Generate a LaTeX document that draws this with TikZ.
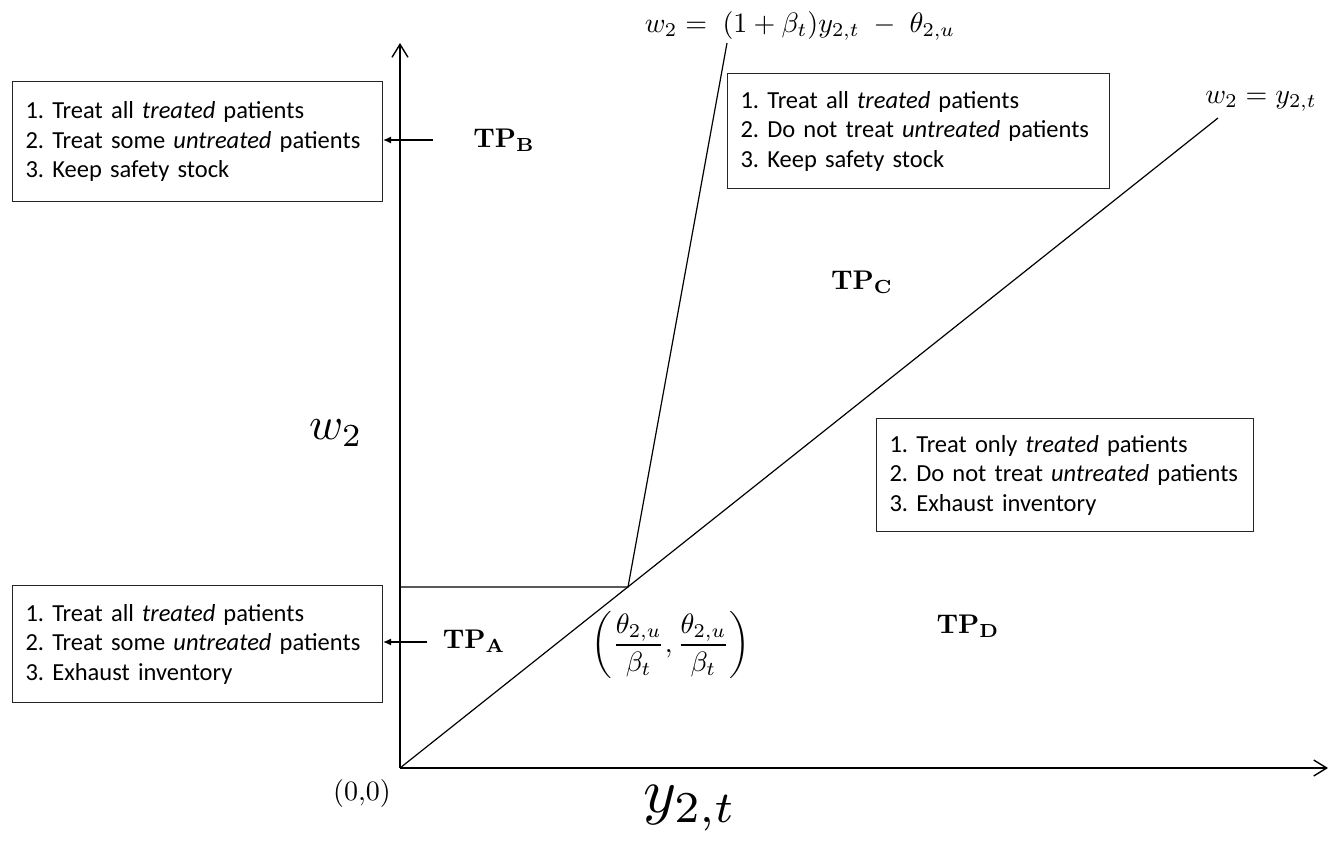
\documentclass[tikz,border=0pt]{standalone}
\usepackage[no-math]{fontspec}
\setmainfont{Carlito}
\usetikzlibrary{arrows.meta}
\frenchspacing
\hyphenpenalty=10000
\begin{document}
\begin{tikzpicture}[x=1pt,y=-1pt,
  axisline/.style={line width=1.6pt, -{Straight Barb[length=13pt,width=16pt,line width=1.4pt]}},
  thinline/.style={line width=1.2pt},
  infobox/.style={draw=black!85, line width=1.1pt, anchor=north west, inner xsep=13pt, inner ysep=0pt,
     align=left, font=\fontsize{24.5}{29.5}\selectfont},
  boxarrow/.style={line width=1.2pt, -{Latex[length=8pt,width=7pt]}},
  tplabel/.style={scale=2.7, inner sep=0pt},
  wmath/.style={scale=4.6, inner sep=0pt},
  ymath/.style={scale=6.3, inner sep=0pt},
  eqlabel/.style={scale=2.8, inner sep=0pt}
]
\useasboundingbox (0,0) rectangle (1337,840);

% axes
\coordinate (O) at (400,768);
\coordinate (ytop) at (400,43);
\coordinate (xend) at (1328,768);
\draw[axisline] (O) -- (ytop);
\draw[axisline] (O) -- (xend);

% boundary lines
\coordinate (dend) at (1218,118);
\coordinate (K) at (628,587);
\coordinate (Stop) at (727,43);
\coordinate (H) at (400,587);
\draw[thinline] (O) -- (dend);
\draw[thinline] (H) -- (K) -- (Stop);

% boxes
\node[infobox, text width=344pt, minimum height=120pt] (boxB) at (12,81)
  {1. Treat all \textit{treated} patients\\2. Treat some \textit{untreated} patients\\3. Keep safety stock};
\node[infobox, text width=356pt, minimum height=115pt] (boxC) at (727,73)
  {1. Treat all \textit{treated} patients\\2. Do not treat \textit{untreated} patients\\3. Keep safety stock};
\node[infobox, text width=351pt, minimum height=113pt] (boxD) at (876,418)
  {1. Treat only \textit{treated} patients\\2. Do not treat \textit{untreated} patients\\3. Exhaust inventory};
\node[infobox, text width=344pt, minimum height=117pt] (boxA) at (12,585)
  {1. Treat all \textit{treated} patients\\2. Treat some \textit{untreated} patients\\3. Exhaust inventory};

% region labels
\node[tplabel] (tpB) at (504,140) {$\mathbf{TP}_{\mathbf{B}}$};
\node[tplabel] (tpA) at (474,641) {$\mathbf{TP}_{\mathbf{A}}$};
\node[tplabel] (tpC) at (862,282) {$\mathbf{TP}_{\mathbf{C}}$};
\node[tplabel] (tpD) at (968,626) {$\mathbf{TP}_{\mathbf{D}}$};

% arrows to boxes
\coordinate (aB) at (433,140);
\coordinate (aA) at (427,642);
\draw[boxarrow] (aB) -- (boxB.east |- aB);
\draw[boxarrow] (aA) -- (boxA.east |- aA);

% axis labels
\node[wmath] (wlab) at (336,433) {$w_2$};
\node[ymath] (ylab) at (690,808) {$y_{2,t}$};
\node[eqlabel] (orig) at (362,793) {$(0{,}0)$};

% line labels
\node[eqlabel] (eq1) at (800,26) {$w_2 = \;(1+\beta_t)y_{2,t}\; -\; \theta_{2,u}$};
\node[eqlabel] (eq2) at (1261,101) {$w_2 = y_{2,t}$};
\node[eqlabel] (pt) at (671,645) {$\displaystyle\left(\frac{\theta_{2,u}}{\beta_t},\frac{\theta_{2,u}}{\beta_t}\right)$};
\end{tikzpicture}
\end{document}
